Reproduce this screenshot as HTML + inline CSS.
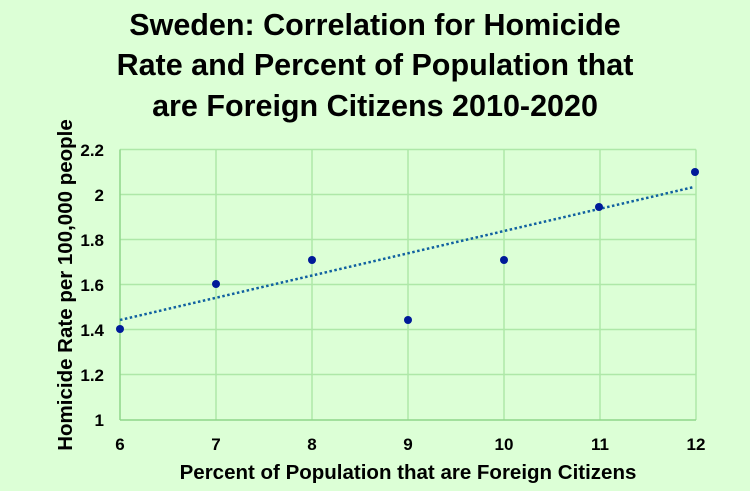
<!DOCTYPE html>
<html><head><meta charset="utf-8"><style>
html,body{margin:0;padding:0;background:#dcffd6;}
svg{display:block;font-family:"Liberation Sans",sans-serif;font-weight:bold;}
</style></head><body>
<svg width="750" height="491" viewBox="0 0 750 491" xmlns="http://www.w3.org/2000/svg">
<rect width="750" height="491" fill="#dcffd6"/>
<g font-size="30.5" text-anchor="middle" fill="#000">
<text x="375" y="35">Sweden: Correlation for Homicide</text>
<text x="375" y="75">Rate and Percent of Population that</text>
<text x="375" y="116">are Foreign Citizens 2010-2020</text>
</g>
<g stroke="#aee8a8" stroke-width="1.5">
<line x1="120" y1="149.5" x2="696" y2="149.5"/>
<line x1="120" y1="194.5" x2="696" y2="194.5"/>
<line x1="120" y1="239.5" x2="696" y2="239.5"/>
<line x1="120" y1="284.5" x2="696" y2="284.5"/>
<line x1="120" y1="329.5" x2="696" y2="329.5"/>
<line x1="120" y1="374.5" x2="696" y2="374.5"/>
<line x1="216" y1="149.5" x2="216" y2="420"/>
<line x1="312" y1="149.5" x2="312" y2="420"/>
<line x1="408" y1="149.5" x2="408" y2="420"/>
<line x1="504" y1="149.5" x2="504" y2="420"/>
<line x1="600" y1="149.5" x2="600" y2="420"/>
<line x1="696" y1="149.5" x2="696" y2="420"/>
</g>
<g stroke="#8fd68a" stroke-width="1.5">
<line x1="120" y1="149.5" x2="120" y2="420"/>
<line x1="120" y1="420" x2="696" y2="420"/>
</g>
<g font-size="17" text-anchor="end" fill="#000">
<text x="104" y="156">2.2</text><text x="104" y="201">2</text><text x="104" y="246">1.8</text>
<text x="104" y="291">1.6</text><text x="104" y="336">1.4</text><text x="104" y="381">1.2</text><text x="104" y="426">1</text>
</g>
<g font-size="17" text-anchor="middle" fill="#000">
<text x="120" y="450">6</text><text x="216" y="450">7</text><text x="312" y="450">8</text><text x="408" y="450">9</text>
<text x="504" y="450">10</text><text x="600" y="450">11</text><text x="696" y="450">12</text>
</g>
<text x="408" y="479" font-size="20.5" text-anchor="middle">Percent of Population that are Foreign Citizens</text>
<text transform="translate(72,285) rotate(-90)" font-size="20.5" text-anchor="middle">Homicide Rate per 100,000 people</text>
<line x1="120" y1="320" x2="694" y2="187" stroke="#1060a0" stroke-width="2.5" stroke-dasharray="2.5,2.5"/>
<g fill="#001a99">
<circle cx="120" cy="329" r="4"/><circle cx="216" cy="284" r="4"/><circle cx="312" cy="260" r="4"/>
<circle cx="408" cy="320" r="4"/><circle cx="504" cy="260" r="4"/><circle cx="599" cy="207" r="4"/>
<circle cx="695" cy="172" r="4"/>
</g>
</svg>
</body></html>
